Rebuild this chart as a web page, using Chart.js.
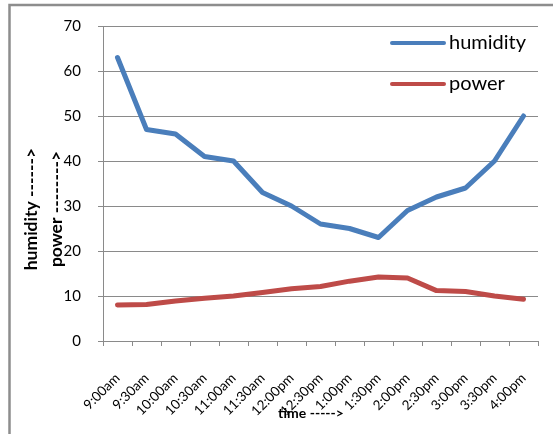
<!DOCTYPE html>
<html>
<head>
<meta charset="utf-8">
<script src="https://cdn.jsdelivr.net/npm/chart.js@4/dist/chart.umd.min.js"></script>
<style>
  html, body { margin: 0; padding: 0; background: #fff; }
  #wrap { position: relative; width: 553px; height: 434px; overflow: hidden; }
  canvas { position: absolute; left: 0; top: 0; }
</style>
</head>
<body>
<div id="wrap"><canvas id="c" width="553" height="434"></canvas></div>
<script>
// Readings taken every half hour
const times = ['9:00am', '9:30am', '10:00am', '10:30am', '11:00am', '11:30am', '12:00pm',
  '12:30pm', '1:00pm', '1:30pm', '2:00pm', '2:30pm', '3:00pm', '3:30pm', '4:00pm'];
const humidity = [63, 47, 46, 41, 40, 33, 30, 26, 25, 23, 29, 32, 34, 40, 50];
const power = [8.0, 8.1, 8.9, 9.5, 10.0, 10.8, 11.6, 12.1, 13.3, 14.2, 14.0, 11.2, 11.0, 10.0, 9.3];
const yTitles = ['humidity ------>', 'power -------->'];
const xTitle = 'time ----->';

const FONT = 'Lato, "Open Sans", sans-serif';
const GRID = '#8a8a8a';

// Frame, axis titles and the in-plot legend
const decorations = {
  id: 'decorations',
  beforeDraw(chart) {
    const ctx = chart.ctx;
    ctx.save();
    ctx.fillStyle = '#fff';
    ctx.fillRect(0, 0, chart.width, chart.height);
    ctx.strokeStyle = '#8d8d8d';
    ctx.lineWidth = 2.5;
    ctx.beginPath();
    ctx.moveTo(9.5, chart.height + 5);
    ctx.lineTo(9.5, 5);
    ctx.lineTo(chart.width + 5, 5);
    ctx.stroke();
    ctx.restore();
  },
  afterDraw(chart) {
    const ctx = chart.ctx;
    ctx.save();
    ctx.fillStyle = '#000';
    ctx.textAlign = 'center';
    ctx.textBaseline = 'alphabetic';
    ctx.font = 'bold 17.5px ' + FONT;
    const baselines = [36.5, 61.5];
    yTitles.forEach((t, i) => {
      ctx.save();
      ctx.translate(baselines[i], 209);
      ctx.rotate(-Math.PI / 2);
      ctx.fillText(t, 0, 0);
      ctx.restore();
    });
    ctx.textBaseline = 'middle';
    ctx.font = 'bold 14px ' + FONT;
    ctx.fillText(xTitle, 311, 413);

    // legend
    ctx.textAlign = 'left';
    ctx.textBaseline = 'alphabetic';
    ctx.font = '20px ' + FONT;
    chart.data.datasets.forEach((ds, i) => {
      const y = 43 + i * 41;
      ctx.strokeStyle = ds.borderColor;
      ctx.lineWidth = 4;
      ctx.lineCap = 'round';
      ctx.beginPath();
      ctx.moveTo(392, y);
      ctx.lineTo(444, y);
      ctx.stroke();
      ctx.fillStyle = '#000';
      ctx.fillText(ds.label, 449, y + 6);
    });
    ctx.restore();
  }
};

new Chart(document.getElementById('c'), {
  type: 'line',
  data: {
    labels: times,
    datasets: [
      { label: 'humidity', data: humidity, borderColor: '#4a7ebb', borderWidth: 5,
        pointRadius: 0, tension: 0, borderCapStyle: 'round', borderJoinStyle: 'round' },
      { label: 'power', data: power, borderColor: '#be4b48', borderWidth: 5,
        pointRadius: 0, tension: 0, borderCapStyle: 'round', borderJoinStyle: 'round' }
    ]
  },
  options: {
    responsive: false,
    animation: false,
    layout: { padding: { left: 0, right: 15, top: 26, bottom: 0 } },
    plugins: { legend: { display: false }, tooltip: { enabled: false } },
    scales: {
      x: {
        offset: true,
        grid: { offset: true, drawOnChartArea: false, drawTicks: true, tickLength: 5, color: GRID },
        border: { color: GRID, width: 1 },
        ticks: { color: '#000', font: { family: FONT, size: 13.5 }, minRotation: 45, maxRotation: 45,
          padding: 24, autoSkip: false },
        afterFit(scale) {
          scale.height = 93;
          scale.paddingLeft = 0;
          scale.paddingRight = 0;
        }
      },
      y: {
        min: 0, max: 70,
        grid: { color: GRID, tickLength: 5, lineWidth: 1 },
        border: { color: GRID, width: 1 },
        ticks: { stepSize: 10, color: '#000', font: { family: FONT, size: 15 }, padding: 17 },
        afterFit(scale) { scale.width = 103; }
      }
    }
  },
  plugins: [decorations]
});
</script>
</body>
</html>
